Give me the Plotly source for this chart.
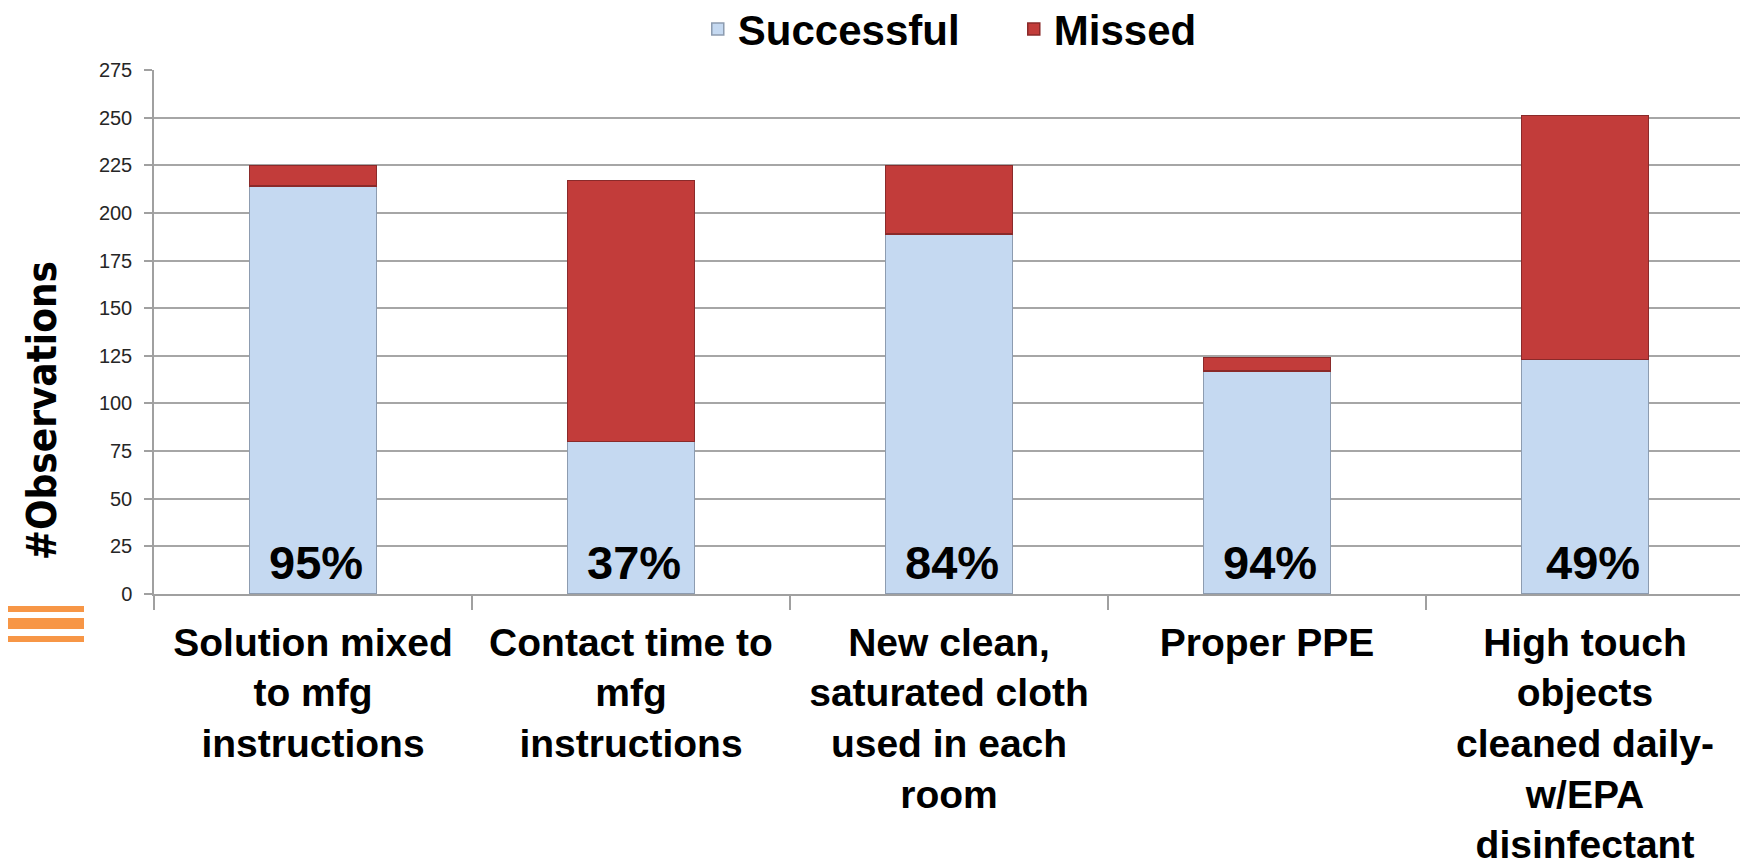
import plotly.graph_objects as go

categories = [
    "Solution mixed<br>to mfg<br>instructions",
    "Contact time to<br>mfg<br>instructions",
    "New clean,<br>saturated cloth<br>used in each<br>room",
    "Proper PPE",
    "High touch<br>objects<br>cleaned daily-<br>w/EPA<br>disinfectant",
]
successful = [214, 80, 189, 117, 123]
missed = [11, 137, 36, 7, 128]
y_ticks = [0, 25, 50, 75, 100, 125, 150, 175, 200, 225, 250, 275]

pct_labels = [f"{round(100 * s / (s + m))}%" for s, m in zip(successful, missed)]

BLUE = "#c5d9f1"
RED = "#c23c3a"
COND = "DejaVu Sans Condensed, sans-serif"
ARIAL = "Liberation Sans, Arial, sans-serif"

fig = go.Figure()
fig.add_trace(go.Bar(
    x=categories, y=successful, name="Successful", width=0.4,
    marker=dict(color=BLUE, line=dict(color="#8d9cb0", width=1.5)),
))
fig.add_trace(go.Bar(
    x=categories, y=missed, name="Missed", width=0.4,
    marker=dict(color=RED, line=dict(color="#8a2a2a", width=1.5)),
))

for i, (cat, lab) in enumerate(zip(categories, pct_labels)):
    fig.add_annotation(
        x=cat, y=0, xref="x", yref="y", text=f"<b>{lab}</b>", showarrow=False,
        yanchor="bottom", yshift=3, xshift=8 if i == 4 else 3,
        font=dict(family=ARIAL, size=47, color="black"),
    )

fig.add_annotation(
    x=-0.0704, y=0.349, xref="paper", yref="paper", text="<b>#Observations</b>",
    showarrow=False, textangle=-90, xanchor="center", yanchor="middle",
    font=dict(family=COND, size=40, color="black"),
)

# decorative orange slide lines
for y0, y1 in [(-12, -18), (-24, -35), (-42, -48)]:
    fig.add_shape(
        type="rect", xref="paper", yref="paper",
        xsizemode="pixel", ysizemode="pixel", xanchor=0, yanchor=0,
        x0=-154, x1=-70, y0=y0, y1=y1,
        fillcolor="#f79646", line=dict(width=0),
    )

# the page body has an 8px margin, so the figure is offset by (8, 8)
fig.update_layout(
    barmode="stack",
    width=1748, height=868,
    margin=dict(l=146, r=12, t=62, b=282, autoexpand=False),
    paper_bgcolor="white", plot_bgcolor="white",
    showlegend=True,
    legend=dict(
        orientation="h", x=0.342, xanchor="left", y=1.078, yanchor="middle",
        traceorder="normal", entrywidth=271,
        font=dict(family=ARIAL, size=42, color="black", weight="bold"),
        itemwidth=30, bgcolor="rgba(0,0,0,0)",
    ),
    bargap=0.6,
)
fig.update_xaxes(
    type="category", showline=True, linecolor="#a0a0a0", linewidth=1.5,
    ticks="outside", tickson="boundaries", ticklen=14, tickcolor="#a0a0a0", tickwidth=1.5,
    tickfont=dict(family=ARIAL, size=39, color="black", weight="bold"),
    showgrid=False, ticklabelstandoff=13,
)
fig.update_yaxes(
    range=[0, 275], tickvals=y_ticks, showline=True, linecolor="#a0a0a0", linewidth=1.5,
    ticks="outside", ticklen=8, tickcolor="#a0a0a0", tickwidth=1.5,
    showgrid=True, gridcolor="#a6a6a6", gridwidth=1.5, zeroline=False,
    tickfont=dict(family=ARIAL, size=20, color="#262626"),
    ticklabelstandoff=8,
)

fig.write_html("out.html")
